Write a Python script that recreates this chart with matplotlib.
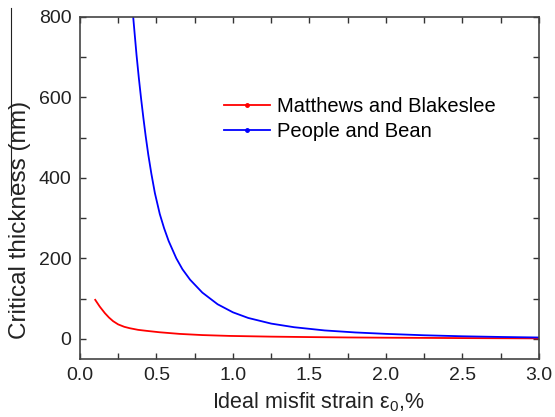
import matplotlib
matplotlib.use("Agg")
import matplotlib.pyplot as plt
from matplotlib.lines import Line2D
from matplotlib.ticker import MultipleLocator, FormatStrFormatter

plt.rcParams.update({
    "font.family": ["Liberation Sans", "DejaVu Sans"],
    "mathtext.fontset": "custom",
    "mathtext.rm": "Liberation Sans",
    "mathtext.it": "Liberation Sans:italic",
    "font.size": 13,
})

# Matthews and Blakeslee (strain %, thickness nm)
mb_strain = [0.10, 0.13, 0.163, 0.19, 0.217, 0.25, 0.29, 0.326, 0.38, 0.435, 0.52,
             0.652, 0.8, 0.978, 1.25, 1.5, 1.75, 2.0, 2.5, 3.0]
mb_thick = [97, 80, 64, 53, 44, 36, 30, 26.5, 22.5, 20, 16.5,
            12.4, 9.5, 7.4, 5.6, 4.5, 3.6, 3.0, 2.0, 1.3]

# People and Bean
pb_strain = [0.348, 0.36, 0.37, 0.385, 0.40, 0.415, 0.43, 0.447, 0.467, 0.49, 0.522,
             0.55, 0.58, 0.63, 0.67, 0.72, 0.8, 0.9, 1.0, 1.1, 1.25, 1.4,
             1.6, 1.8, 2.0, 2.25, 2.5, 2.75, 3.0]
pb_thick = [800, 748, 705, 648, 596, 548, 503, 457, 410, 362, 310,
            275, 243, 200, 173, 147, 115, 86, 66, 52, 38, 29,
            21, 16, 12.5, 9, 6.5, 4.8, 3.5]

fig = plt.figure(figsize=(5.55, 4.17), dpi=100)
ax = fig.add_axes([0.144, 0.139, 0.827, 0.821])

ax.plot(mb_strain, mb_thick, color="#ff0000", lw=1.3)
ax.plot(pb_strain, pb_thick, color="#0000ff", lw=1.3)

ax.set_xlim(0, 3.0)
ax.set_ylim(-50, 800)
ax.xaxis.set_major_locator(MultipleLocator(0.5))
ax.xaxis.set_minor_locator(MultipleLocator(0.25))
ax.yaxis.set_major_locator(MultipleLocator(200))
ax.yaxis.set_minor_locator(MultipleLocator(100))
ax.xaxis.set_major_formatter(FormatStrFormatter("%.1f"))
ax.tick_params(which="both", direction="in", top=True, right=True, length=4.5,
               width=1.0, color="#333333", labelsize=14, labelcolor="#222222")
ax.tick_params(which="major", pad=6)
for s in ax.spines.values():
    s.set_linewidth(1.2)
    s.set_color("#444444")

ax.set_xlabel("Ideal misfit strain ε$_0$,%", fontsize=15.5, color="#222222")
ax.set_ylabel("Critical thickness (nm)", fontsize=17.5, color="#222222")
ax.xaxis.set_label_coords(0.519, -0.091)
ax.yaxis.set_label_coords(-0.107, 0.406)

handles = [
    Line2D([], [], color="#ff0000", lw=1.3, marker="o", markersize=2.5),
    Line2D([], [], color="#0000ff", lw=1.3, marker="o", markersize=2.5),
]
ax.legend(handles, ["Matthews and Blakeslee", "People and Bean"],
          loc="upper left", bbox_to_anchor=(0.292, 0.795), frameon=False,
          fontsize=14.5, handlelength=2.3, handletextpad=0.35,
          labelspacing=0.3, borderpad=0, numpoints=1)

# thin vertical rule at the left edge of the scanned figure
fig.add_artist(Line2D([0.02, 0.02], [1 - 8 / 417, 1 - 195 / 417],
                      transform=fig.transFigure, color="#222222", lw=0.8))

fig.savefig("out.png", dpi=100)
